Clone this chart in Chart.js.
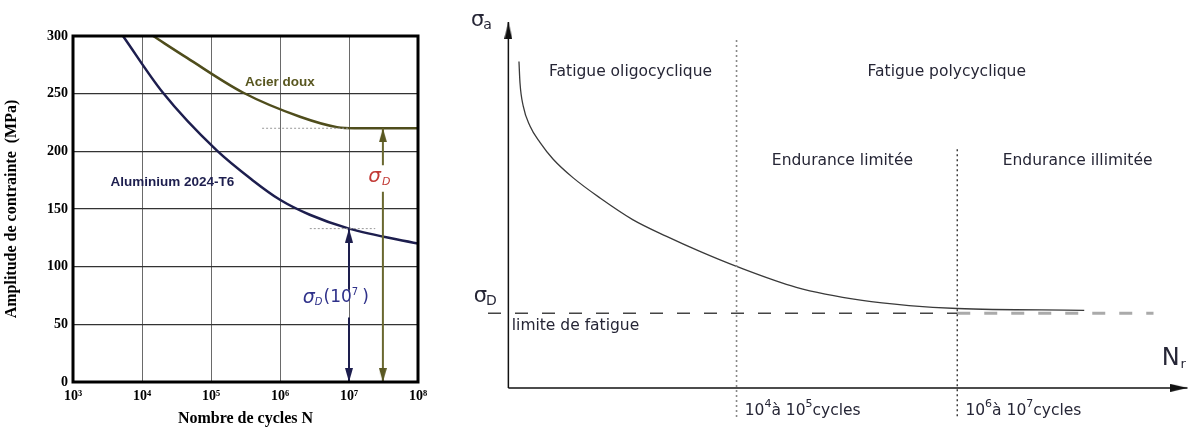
<!DOCTYPE html>
<html>
<head>
<meta charset="utf-8">
<script src="https://cdn.jsdelivr.net/npm/chart.js@4.4.1/dist/chart.umd.min.js"></script>
<style>
  html, body { margin: 0; padding: 0; background: #fff; }
  #left { position: absolute; left: 0; top: 0; width: 440px; height: 430px; }
  #right { position: absolute; left: 440px; top: 0; width: 755px; height: 430px; }
</style>
</head>
<body>
<div id="left"><canvas id="woehler"></canvas></div>
<div id="right"><canvas id="schema"></canvas></div>
<script>
// ---- left: Woehler curves (cycles N, stress amplitude in MPa)
const cycleTicks = [1e3, 1e4, 1e5, 1e6, 1e7, 1e8];
const stressTicks = [0, 50, 100, 150, 200, 250, 300];

const aluN = [5.3e3, 2e4, 1.2e5, 4e5, 1e6, 2.7e6, 1e7, 1e8];
const aluS = [300, 251, 201, 175, 158, 145, 133, 120];

const acierN = [1.45e4, 4.5e4, 2.9e5, 1.95e6, 6.7e6, 1.2e7, 1e8];
const acierS = [300, 281, 251, 230, 221, 220, 220];

// endurance limits and the dotted guides to them
const aluGuideN = [2.7e6, 2.4e7];
const aluGuideS = [133, 133];
const acierGuideN = [5.5e5, 1e7];
const acierGuideS = [220, 220];

// double arrows (null = gap for the label)
const aluArrowN = [1e7, 1e7, 1e7, 1e7, 1e7];
const aluArrowS = [133, 80, null, 56, 0];
const acierArrowN = [3.1e7, 3.1e7, 3.1e7, 3.1e7, 3.1e7];
const acierArrowS = [220, 188, null, 165, 0];

// ---- right: schematic S-N curve (arbitrary units)
const schemaX = [1.56, 1.71, 2.19, 3.18, 4.65, 6.6, 9.55, 13.5, 18.3, 23.3, 28.2, 33.6, 42.4, 52.1, 59.0, 66.1, 84.8];
const schemaY = [89.2, 83.4, 77.0, 71.6, 67.1, 62.5, 57.4, 51.9, 46.0, 41.4, 37.3, 33.2, 27.5, 23.9, 22.5, 21.7, 21.2];
const limitY = 20.4;
const limitDarkX = [-3, 66.1];
const limitLightX = [66.1, 95];
const oligoBoundX = 33.6;
const oligoBoundY = [95.1, -8.1];
const enduBoundX = 66.1;
const enduBoundY = [65.2, -8.1];

const pts = (xs, ys) => xs.map((x, i) => ({ x: x, y: ys[i] }));
const sup = { 3: '³', 4: '⁴', 5: '⁵', 6: '⁶', 7: '⁷', 8: '⁸' };

// narrow arrow head: tip at the canvas centre, body pointing down
function arrowHead(w, h, color) {
  const c = document.createElement('canvas');
  c.width = w;
  c.height = h * 2;
  const g = c.getContext('2d');
  g.fillStyle = color;
  g.beginPath();
  g.moveTo(w / 2, h);
  g.lineTo(w, h * 2);
  g.lineTo(0, h * 2);
  g.closePath();
  g.fill();
  return c;
}

function richText(ctx, x, y, parts, color) {
  ctx.save();
  ctx.fillStyle = color;
  ctx.textBaseline = 'middle';
  ctx.textAlign = 'left';
  let cx = x;
  parts.forEach(p => {
    ctx.font = p.font;
    ctx.fillText(p.t, cx, y + (p.dy || 0));
    cx += ctx.measureText(p.t).width + (p.gap || 0);
  });
  ctx.restore();
}

const navy = '#1d1e4e';
const olive = '#4f4d1c';
const navyHead = arrowHead(8, 14, navy);
const oliveHead = arrowHead(8, 14, '#5a5822');

function arrowSet(xs, ys, color, head) {
  return {
    data: pts(xs, ys),
    borderColor: color,
    borderWidth: 2,
    pointStyle: [head, false, false, false, head],
    pointRadius: [1, 0, 0, 0, 1],
    rotation: [0, 0, 0, 0, 180],
    spanGaps: false,
    clip: false
  };
}

const leftLabels = [
  { n: 3.1e5, s: 260, color: '#58561f', parts: [{ t: 'Acier doux', font: 'bold 13.5px "Liberation Sans"' }] },
  { n: 3.5e3, s: 173.4, color: navy, parts: [{ t: 'Aluminium 2024-T6', font: 'bold 13.5px "Liberation Sans"' }] },
  { n: 2.14e6, s: 72.8, color: '#2f318a', parts: [
    { t: 'σ', font: 'italic 19px "DejaVu Sans"' },
    { t: 'D', font: 'italic 10px "DejaVu Sans"', dy: 4, gap: 1 },
    { t: '(10', font: '17px "DejaVu Sans"' },
    { t: '7', font: '10px "DejaVu Sans"', dy: -6, gap: 4 },
    { t: ')', font: '17px "DejaVu Sans"' }
  ] },
  { n: 1.9e7, s: 177.7, color: '#c23a36', parts: [
    { t: 'σ', font: 'italic 20px "DejaVu Sans"', gap: 1 },
    { t: 'D', font: 'italic 11px "DejaVu Sans"', dy: 5 }
  ] }
];

const woehlerDecor = {
  id: 'woehlerDecor',
  afterDraw(chart) {
    const { ctx, chartArea: a, scales } = chart;
    ctx.save();
    ctx.strokeStyle = '#000';
    ctx.lineWidth = 3;
    ctx.strokeRect(a.left, a.top, a.right - a.left, a.bottom - a.top);
    ctx.restore();
    leftLabels.forEach(l => {
      richText(ctx, scales.x.getPixelForValue(l.n), scales.y.getPixelForValue(l.s), l.parts, l.color);
    });
  }
};

const serifBold = (size) => ({ family: '"Liberation Serif", "DejaVu Serif", serif', size: size, weight: 'bold' });

new Chart(document.getElementById('woehler'), {
  type: 'line',
  data: {
    datasets: [
      { data: pts(acierGuideN, acierGuideS), borderColor: '#999', borderWidth: 1, borderDash: [2, 2], pointRadius: 0 },
      { data: pts(aluGuideN, aluGuideS), borderColor: '#999', borderWidth: 1, borderDash: [2, 2], pointRadius: 0 },
      arrowSet(aluArrowN, aluArrowS, navy, navyHead),
      arrowSet(acierArrowN, acierArrowS, '#6a6830', oliveHead),
      { data: pts(acierN, acierS), borderColor: olive, borderWidth: 2.5, pointRadius: 0, cubicInterpolationMode: 'monotone' },
      { data: pts(aluN, aluS), borderColor: navy, borderWidth: 2.5, pointRadius: 0, cubicInterpolationMode: 'monotone' }
    ]
  },
  options: {
    responsive: true,
    maintainAspectRatio: false,
    animation: false,
    events: [],
    layout: { padding: { top: 36, right: 22, left: 0, bottom: 0 } },
    plugins: { legend: { display: false }, tooltip: { enabled: false } },
    scales: {
      x: {
        type: 'logarithmic',
        min: 1e3,
        max: 1e8,
        afterBuildTicks: s => { s.ticks = cycleTicks.map(v => ({ value: v })); },
        afterFit: s => { s.height = 48; },
        grid: { color: '#6a6a6a', lineWidth: 1, drawTicks: false },
        border: { display: false },
        ticks: {
          padding: 6,
          autoSkip: false,
          maxRotation: 0,
          color: '#000',
          font: serifBold(14),
          callback: v => '10' + sup[Math.round(Math.log10(v))]
        },
        title: { display: true, text: 'Nombre de cycles N', color: '#000', font: serifBold(16), padding: { top: 0, bottom: 2 } }
      },
      y: {
        min: 0,
        max: 300,
        afterBuildTicks: s => { s.ticks = stressTicks.map(v => ({ value: v })); },
        afterFit: s => { s.width = 73; },
        grid: { color: '#333', lineWidth: 1.2, drawTicks: false },
        border: { display: false },
        ticks: { padding: 5, color: '#000', font: serifBold(14) },
        title: { display: true, text: 'Amplitude de contrainte  (MPa)', color: '#000', font: serifBold(16), padding: { top: 2, bottom: 0 } }
      }
    }
  },
  plugins: [woehlerDecor]
});

// ---- right chart
const ink = '#262636';
const blackHead = arrowHead(8, 17, '#111');
const sansF = (size) => size + 'px "DejaVu Sans"';

const rightLabels = [
  { x: 6.0, y: 86.4, parts: [{ t: 'Fatigue oligocyclique', font: sansF(15.5) }] },
  { x: 52.9, y: 86.4, parts: [{ t: 'Fatigue polycyclique', font: sansF(15.5) }] },
  { x: 38.8, y: 62.0, parts: [{ t: 'Endurance limitée', font: sansF(15.5) }] },
  { x: 72.8, y: 62.0, parts: [{ t: 'Endurance illimitée', font: sansF(15.5) }] },
  { x: 0.5, y: 16.9, parts: [{ t: 'limite de fatigue', font: sansF(15.5) }] },
  { x: -5.1, y: 25.0, parts: [{ t: 'σ', font: sansF(21), gap: -1 }, { t: 'D', font: sansF(14), dy: 5 }] },
  { x: -5.5, y: 100.5, parts: [{ t: 'σ', font: sansF(21), gap: -1 }, { t: 'a', font: sansF(14), dy: 5 }] },
  { x: 96.2, y: 7.9, parts: [{ t: 'N', font: sansF(24), gap: 1 }, { t: 'r', font: sansF(13), dy: 6 }] },
  { x: 34.8, y: -6.2, parts: [
    { t: '10', font: sansF(15.5) }, { t: '4', font: sansF(11), dy: -6 }, { t: 'à 10', font: sansF(15.5) },
    { t: '5', font: sansF(11), dy: -6 }, { t: 'cycles', font: sansF(15.5) }
  ] },
  { x: 67.3, y: -6.2, parts: [
    { t: '10', font: sansF(15.5) }, { t: '6', font: sansF(11), dy: -6 }, { t: 'à 10', font: sansF(15.5) },
    { t: '7', font: sansF(11), dy: -6 }, { t: 'cycles', font: sansF(15.5) }
  ] }
];

const schemaLabels = {
  id: 'schemaLabels',
  afterDraw(chart) {
    const { ctx, scales } = chart;
    rightLabels.forEach(l => {
      richText(ctx, scales.x.getPixelForValue(l.x), scales.y.getPixelForValue(l.y), l.parts, ink);
    });
  }
};

new Chart(document.getElementById('schema'), {
  type: 'line',
  data: {
    datasets: [
      { data: pts([oligoBoundX, oligoBoundX], oligoBoundY), borderColor: '#888', borderWidth: 1.6, borderDash: [2, 3], pointRadius: 0 },
      { data: pts([enduBoundX, enduBoundX], enduBoundY), borderColor: '#333', borderWidth: 1.4, borderDash: [2, 3], pointRadius: 0 },
      { data: pts(limitDarkX, [limitY, limitY]), borderColor: '#444', borderWidth: 1.3, borderDash: [13, 14], pointRadius: 0 },
      { data: pts(limitLightX, [limitY, limitY]), borderColor: '#aaa', borderWidth: 3, borderDash: [13, 14], pointRadius: 0 },
      { data: pts(schemaX, schemaY), borderColor: '#3a3a3a', borderWidth: 1.3, pointRadius: 0, cubicInterpolationMode: 'monotone' },
      { data: pts([0, 0], [0, 100]), borderColor: '#111', borderWidth: 1.5,
        pointStyle: [false, blackHead], pointRadius: [0, 1], rotation: [0, 0], clip: false },
      { data: pts([0, 100], [0, 0]), borderColor: '#111', borderWidth: 1.5,
        pointStyle: [false, blackHead], pointRadius: [0, 1], rotation: [0, 90], clip: false }
    ]
  },
  options: {
    responsive: true,
    maintainAspectRatio: false,
    animation: false,
    events: [],
    layout: { padding: { top: 22, right: 5, left: 48, bottom: 3 } },
    plugins: { legend: { display: false }, tooltip: { enabled: false } },
    scales: {
      x: { type: 'linear', min: -3, max: 100.3, display: false },
      y: { type: 'linear', min: -10, max: 100, display: false }
    }
  },
  plugins: [schemaLabels]
});
</script>
</body>
</html>
